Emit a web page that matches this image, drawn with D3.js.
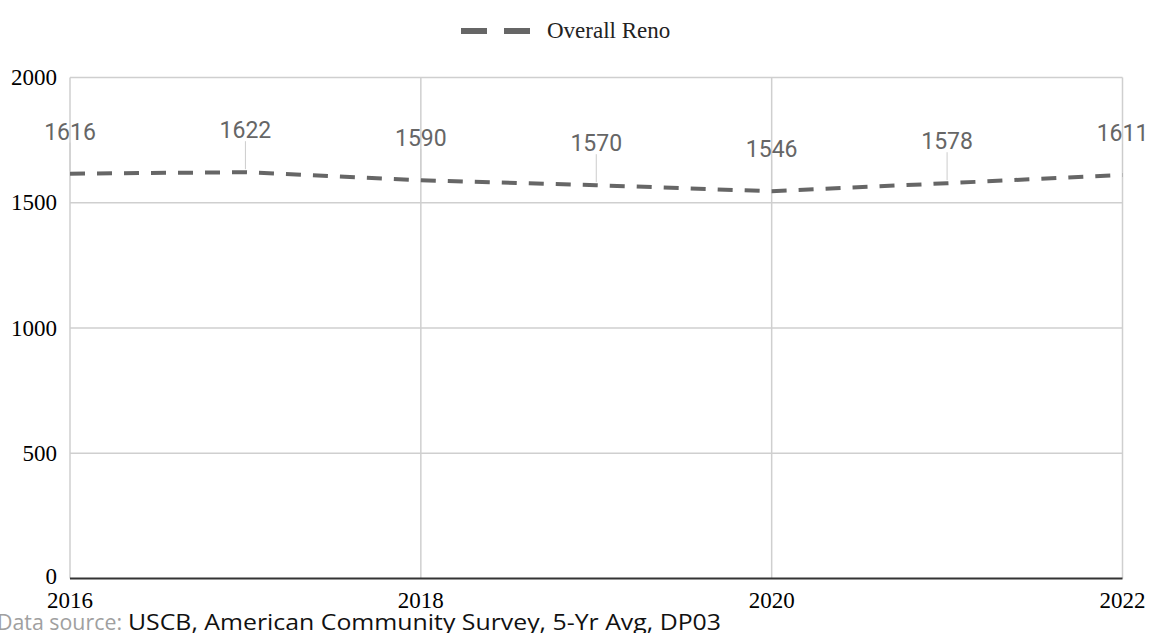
<!DOCTYPE html>
<html>
<head>
<meta charset="utf-8">
<script src="https://cdn.jsdelivr.net/npm/d3@7"></script>
<style>
  html, body { margin: 0; padding: 0; background: #fff; }
  svg { display: block; }
</style>
</head>
<body>
<svg id="chart" width="1150" height="633"></svg>
<script>
const years = [2016, 2017, 2018, 2019, 2020, 2021, 2022];
const values = [1616, 1622, 1590, 1570, 1546, 1578, 1611];
const xTicks = [2016, 2018, 2020, 2022];
const yTicks = [0, 500, 1000, 1500, 2000];
const seriesName = "Overall Reno";

(function () {
const svg = d3.select("#chart");
const mLeft = 70, mRight = 1122.5, mTop = 77.5, mBottom = 578.5;
const serif = "'Liberation Serif', 'Times New Roman', serif";

const x = d3.scaleLinear().domain([2016, 2022]).range([mLeft, mRight]);
const y = d3.scaleLinear().domain([0, 2000]).range([mBottom, mTop]);

// horizontal gridlines
svg.append("g").selectAll("line").data(yTicks.filter(d => d > 0)).join("line")
  .attr("x1", mLeft).attr("x2", mRight)
  .attr("y1", d => y(d)).attr("y2", d => y(d))
  .attr("stroke", "#cfcfcf").attr("stroke-width", 1.5);

// vertical gridlines
svg.append("g").selectAll("line").data(xTicks).join("line")
  .attr("x1", d => x(d)).attr("x2", d => x(d))
  .attr("y1", mTop).attr("y2", mBottom)
  .attr("stroke", "#cfcfcf").attr("stroke-width", 1.5);

// baseline
svg.append("line")
  .attr("x1", mLeft).attr("x2", mRight)
  .attr("y1", y(0)).attr("y2", y(0))
  .attr("stroke", "#333").attr("stroke-width", 2);

// y axis labels
svg.append("g").selectAll("text").data(yTicks).join("text")
  .attr("x", 57).attr("y", d => y(d) + (d === 0 ? -2 : 0))
  .attr("dy", "0.33em")
  .attr("text-anchor", "end")
  .attr("font-family", serif)
  .attr("font-size", 23).attr("fill", "#000")
  .text(d => d);

// x axis labels
svg.append("g").selectAll("text").data(xTicks).join("text")
  .attr("x", d => x(d)).attr("y", 608)
  .attr("text-anchor", "middle")
  .attr("font-family", serif)
  .attr("font-size", 23).attr("fill", "#000")
  .text(d => d);

// leader lines
svg.append("g").selectAll("line").data(years).join("line")
  .attr("x1", d => x(d)).attr("x2", d => x(d))
  .attr("y1", (d, i) => y(values[i]) - 3)
  .attr("y2", (d, i) => y(values[i]) - 31)
  .attr("stroke", "#cccccc").attr("stroke-width", 1);

// line
const line = d3.line().x((d, i) => x(years[i])).y(d => y(d));
svg.append("path").datum(values)
  .attr("d", line)
  .attr("fill", "none")
  .attr("stroke", "#666")
  .attr("stroke-width", 4)
  .attr("stroke-dasharray", "15,12");

// data labels
svg.append("g").selectAll("text").data(years).join("text")
  .attr("x", d => x(d))
  .attr("y", (d, i) => y(values[i]) - 34)
  .attr("text-anchor", "middle")
  .attr("font-family", "Roboto, sans-serif")
  .attr("font-size", 23).attr("fill", "#666")
  .text((d, i) => values[i]);

// legend
const lg = svg.append("g");
lg.append("line").attr("x1", 461).attr("x2", 487).attr("y1", 31).attr("y2", 31)
  .attr("stroke", "#666").attr("stroke-width", 6);
lg.append("line").attr("x1", 504).attr("x2", 530).attr("y1", 31).attr("y2", 31)
  .attr("stroke", "#666").attr("stroke-width", 6);
lg.append("text").attr("x", 547).attr("y", 38)
  .attr("font-family", serif)
  .attr("font-size", 23).attr("fill", "#222")
  .text(seriesName);

// data source
svg.append("text").attr("x", -3).attr("y", 630)
  .attr("font-family", "'Open Sans', sans-serif")
  .attr("font-size", 21).attr("fill", "#a0a0a0")
  .attr("textLength", 125).attr("lengthAdjust", "spacingAndGlyphs")
  .text("Data source:");
svg.append("text").attr("x", 128).attr("y", 630)
  .attr("font-family", "'Open Sans', sans-serif")
  .attr("font-size", 21).attr("fill", "#111")
  .attr("textLength", 593).attr("lengthAdjust", "spacingAndGlyphs")
  .text("USCB, American Community Survey, 5-Yr Avg, DP03");
})();
</script>
</body>
</html>
